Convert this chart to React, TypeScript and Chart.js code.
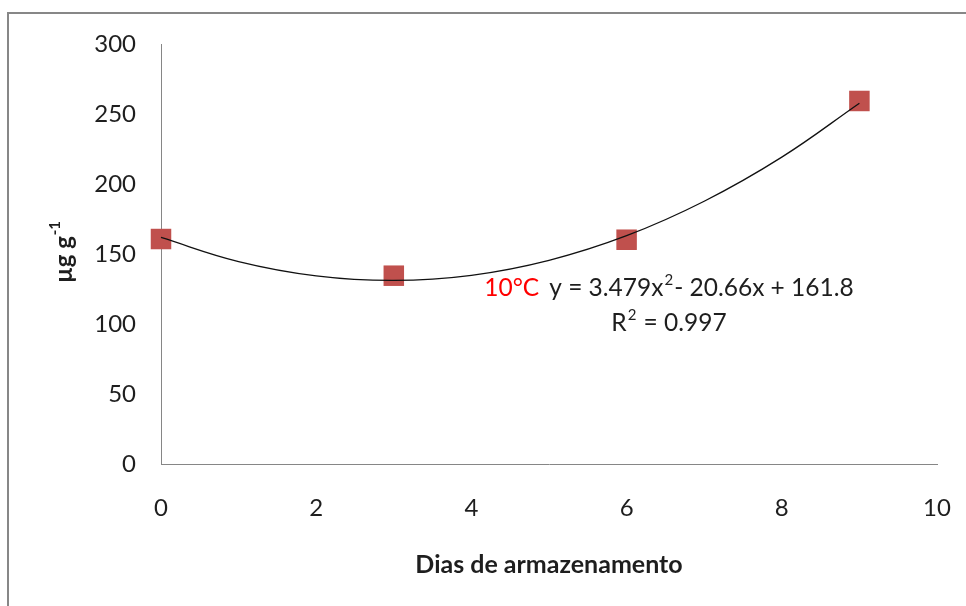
import React, { useEffect, useRef } from "react";
import { Chart, registerables } from "chart.js";

Chart.register(...registerables);

// Observed data (days of storage vs µg g-1)
const days = [0, 3, 6, 9];
const values = [160.7, 134.5, 160.2, 259.3];

// Trendline at each day
const trendDays = [0, 1, 2, 3, 4, 5, 6, 7, 8, 9];
const trendValues = [161.8, 144.6, 134.4, 131.1, 134.8, 145.5, 163.1, 187.7, 219.2, 257.7];

const xTicks = [0, 2, 4, 6, 8, 10];
const yTicks = [0, 50, 100, 150, 200, 250, 300];

const xTitle = "Dias de armazenamento";
const yTitleMain = "µg g";
const yTitleSup = "-1";
const tempLabel = "10°C";
// [text, superscript?]
const equationParts: [string, boolean][] = [
  ["y = 3.479x", false],
  ["2", true],
  ["- 20.66x + 161.8", false],
];
const r2Parts: [string, boolean][] = [
  ["R", false],
  ["2", true],
  [" = 0.997", false],
];

const FONT = "Lato, 'Open Sans', sans-serif";
const TEXT = "#1e1e1e";
const BASE = 24.5;
const SUP = 15;

function partsWidth(ctx: any, parts: [string, boolean][]) {
  let w = 0;
  for (const [t, sup] of parts) {
    ctx.font = `${sup ? SUP : BASE}px ${FONT}`;
    w += ctx.measureText(t).width + (sup ? 2 : 0);
  }
  return w;
}

function drawParts(ctx: any, parts: [string, boolean][], x: number, y: number) {
  let cx = x;
  for (const [t, sup] of parts) {
    ctx.font = `${sup ? SUP : BASE}px ${FONT}`;
    if (sup) cx += 1;
    ctx.fillText(t, cx, sup ? y - 8 : y);
    cx += ctx.measureText(t).width + (sup ? 1 : 0);
  }
}

const textPlugin = {
  id: "texts",
  afterDraw(chart: any) {
    const ctx = chart.ctx;
    ctx.save();
    ctx.fillStyle = TEXT;
    ctx.textBaseline = "middle";
    // x title
    ctx.font = `bold 25px ${FONT}`;
    ctx.textAlign = "center";
    ctx.fillText(xTitle, 549, 565);
    // y title rotated
    ctx.save();
    ctx.translate(64, 252);
    ctx.rotate(-Math.PI / 2);
    ctx.font = `bold 24px ${FONT}`;
    const wMain = ctx.measureText(yTitleMain + " ").width;
    ctx.font = `bold 15px ${FONT}`;
    const wSup = ctx.measureText(yTitleSup).width;
    const total = wMain + wSup - 5;
    ctx.textAlign = "left";
    ctx.font = `bold 24px ${FONT}`;
    ctx.fillText(yTitleMain, -total / 2, 0);
    ctx.font = `bold 15px ${FONT}`;
    ctx.fillText(yTitleSup, -total / 2 + wMain - 5, -9);
    ctx.restore();
    // equation
    ctx.textAlign = "left";
    ctx.font = `${BASE}px ${FONT}`;
    const gap = 10;
    const wT = ctx.measureText(tempLabel).width;
    const wE = partsWidth(ctx, equationParts);
    const start = 669 - (wT + gap + wE) / 2;
    ctx.fillStyle = "#ff0000";
    ctx.font = `${BASE}px ${FONT}`;
    ctx.fillText(tempLabel, start, 288);
    ctx.fillStyle = TEXT;
    drawParts(ctx, equationParts, start + wT + gap, 288);
    const wR = partsWidth(ctx, r2Parts);
    drawParts(ctx, r2Parts, 669 - wR / 2, 323);
    ctx.restore();
  },
};

export default function App() {
  const ref = useRef<HTMLCanvasElement>(null);
  useEffect(() => {
    const canvas = ref.current;
    if (!canvas) return;
    const chart = new Chart(canvas, {
      type: "scatter",
      data: {
        datasets: [
          {
            type: "line",
            data: trendDays.map((d, i) => ({ x: d, y: trendValues[i] })),
            borderColor: "#111111",
            borderWidth: 1.3,
            pointRadius: 0,
            tension: 0.4,
            fill: false,
            clip: false,
            order: 0,
          } as any,
          {
            data: days.map((d, i) => ({ x: d, y: values[i] })),
            backgroundColor: "#C0504D",
            borderColor: "#C0504D",
            borderWidth: 0,
            pointStyle: "rect",
            pointRadius: 14.5,
            pointHoverRadius: 14.5,
            clip: false,
            order: 1,
          } as any,
        ],
      },
      options: {
        animation: false,
        responsive: false,
        devicePixelRatio: 1,
        events: [],
        layout: { padding: { left: 0, top: 44, right: 29, bottom: 0 } },
        plugins: {
          legend: { display: false },
          tooltip: { enabled: false },
        },
        scales: {
          x: {
            type: "linear",
            min: 0,
            max: 10,
            afterBuildTicks: (scale: any) => {
              scale.ticks = xTicks.map((v) => ({ value: v }));
            },
            afterFit: (scale: any) => {
              scale.height = 142;
              scale.paddingLeft = 0;
              scale.paddingRight = 0;
            },
            ticks: {
              font: { family: FONT, size: 24 },
              color: TEXT,
              padding: 30,
              maxRotation: 0,
            },
            grid: { display: false, drawTicks: false },
            border: { display: true, color: "#868686", width: 1 },
          },
          y: {
            type: "linear",
            min: 0,
            max: 300,
            afterBuildTicks: (scale: any) => {
              scale.ticks = yTicks.map((v) => ({ value: v }));
            },
            afterFit: (scale: any) => {
              scale.width = 161;
              scale.paddingTop = 0;
              scale.paddingBottom = 0;
            },
            ticks: {
              font: { family: FONT, size: 24 },
              color: TEXT,
              padding: 25,
            },
            grid: { display: false, drawTicks: false },
            border: { display: true, color: "#868686", width: 1 },
          },
        },
      },
      plugins: [textPlugin],
    });
    return () => chart.destroy();
  }, []);

  return (
    <div
      style={{
        position: "fixed",
        left: 0,
        top: 0,
        width: 966,
        height: 606,
        overflow: "hidden",
        background: "#ffffff",
      }}
    >
      <div
        style={{
          position: "absolute",
          left: 7,
          top: 12,
          width: 1100,
          height: 800,
          border: "2px solid #878787",
        }}
      />
      <canvas
        ref={ref}
        width={966}
        height={606}
        style={{ position: "absolute", left: 0, top: 0, width: 966, height: 606 }}
      />
    </div>
  );
}
